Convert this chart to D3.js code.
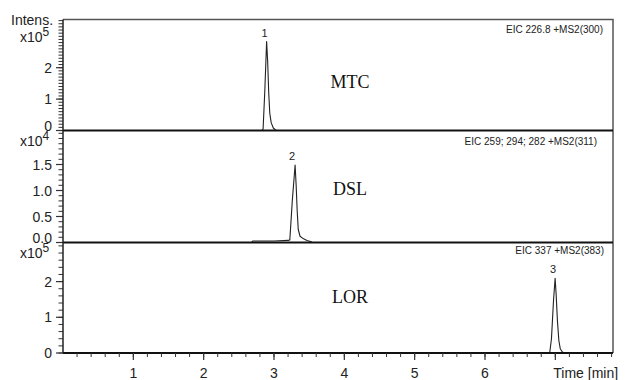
<!DOCTYPE html>
<html><head><meta charset="utf-8">
<script src="https://cdn.jsdelivr.net/npm/d3@7"></script>
<style>body{margin:0;background:#fff}svg{display:block}</style>
</head><body><svg id="c" width="626" height="380"></svg>
<script>
// ---- data ----
const panelNames = ["MTC", "DSL", "LOR"];
const eicLabels = ["EIC 226.8 +MS2(300)", "EIC 259; 294; 282 +MS2(311)", "EIC 337 +MS2(383)"];
const peakNumbers = ["1", "2", "3"];
const peakTimes = [2.895, 3.30, 6.997];
const peakHeights = [2.83, 1.49, 2.09];
const exponents = ["5", "4", "5"];
const yMax = [3.535, 2.154, 3.095];
const yTickLabels = [["0", "1", "2"], ["0.0", "0.5", "1.0", "1.5"], ["0", "1", "2"]];
const yMajorStep = [1, 0.5, 1];
const yMinorStep = [0.1, 0.1, 0.2];
const xTickLabels = ["1", "2", "3", "4", "5", "6"];
const xMax = 7.82;
const xAxisTitle = "Time [min]";
const mtcTrace = [[0,0],[2.83,0],[2.845,0.05],[2.87,1.3],[2.895,2.83],[2.91,2.2],[2.925,1.2],[2.94,0.55],[2.96,0.25],[2.99,0.08],[3.03,0],[7.82,0]];
const dslTrace = [[0,0],[2.68,0],[2.70,0.03],[3.0,0.03],[3.2,0.04],[3.225,0.05],[3.26,0.8],[3.30,1.49],[3.315,1.1],[3.33,0.6],[3.345,0.25],[3.37,0.12],[3.42,0.07],[3.47,0.04],[3.52,0.02],[3.54,0],[7.82,0]];
const lorTrace = [[0,0],[6.92,0],[6.945,0.4],[6.975,1.5],[6.997,2.09],[7.01,1.7],[7.03,0.9],[7.05,0.35],[7.07,0.12],[7.1,0.03],[7.12,0],[7.82,0]];
const traces = [mtcTrace, dslTrace, lorTrace];

// ---- layout ----
const svg = d3.select("#c");
const L = 63, R = 613, T = 19.5;
const panelBottoms = [130.5, 242.5, 353];
const panelTops = [T, 130.5, 242.5];
const sans = "'Liberation Sans', Arial, sans-serif";
const serif = "'Liberation Serif', 'Times New Roman', serif";

const x = d3.scaleLinear().domain([0, xMax]).range([L, R]);

// frame (top + right)
svg.append("path").attr("d", `M${L},${T}H${R}V${panelBottoms[2]}`)
  .attr("fill", "none").attr("stroke", "#555").attr("stroke-width", 1.5);

panelNames.forEach((name, i) => {
  const y = d3.scaleLinear().domain([0, yMax[i]]).range([panelBottoms[i], panelTops[i]]);
  const g = svg.append("g");
  // minor ticks
  const minor = d3.range(0, yMax[i] + 1e-9, yMinorStep[i]);
  g.selectAll("line.mi").data(minor).enter().append("line")
    .attr("x1", L - 4.5).attr("x2", L).attr("y1", d => y(d)).attr("y2", d => y(d))
    .attr("stroke", "#333").attr("stroke-width", 1);
  const major = yTickLabels[i].map((s, k) => k * yMajorStep[i]);
  g.selectAll("line.ma").data(major).enter().append("line")
    .attr("x1", L - 7).attr("x2", L).attr("y1", d => y(d)).attr("y2", d => y(d))
    .attr("stroke", "#333").attr("stroke-width", 1.2);
  g.selectAll("text.tl").data(yTickLabels[i]).enter().append("text")
    .attr("x", 52).attr("y", (s, k) => y(major[k]) + 5 - (k === 0 && i < 2 ? 5 : 0))
    .attr("text-anchor", "end").attr("font-family", sans).attr("font-size", 14).attr("fill", "#222")
    .text(s => s);
  // multiplier label
  const mt = g.append("text").attr("x", 20).attr("y", panelTops[i] + 22 - (i === 0 ? 0 : 7))
    .attr("font-family", sans).attr("font-size", 14).attr("fill", "#222");
  mt.append("tspan").text("x10");
  mt.append("tspan").attr("dy", -6).attr("font-size", 12).text(exponents[i]);
  // trace
  const line = d3.line().x(d => x(d[0])).y(d => y(d[1]));
  g.append("path").datum(traces[i]).attr("d", line)
    .attr("fill", "none").attr("stroke", "#222").attr("stroke-width", 1.1).attr("stroke-linejoin", "round");
  // baseline (panel separator)
  g.append("line").attr("x1", L).attr("x2", R).attr("y1", y(0)).attr("y2", y(0))
    .attr("stroke", "#111").attr("stroke-width", 2);
  // peak number
  g.append("text").attr("x", x(peakTimes[i]) - (i === 1 ? 3 : 2)).attr("y", y(peakHeights[i]) - 5)
    .attr("text-anchor", "middle").attr("font-family", sans).attr("font-size", 11).attr("fill", "#222")
    .text(peakNumbers[i]);
  // compound name
  g.append("text").attr("x", 350).attr("y", panelTops[i] + [68, 64, 60][i])
    .attr("text-anchor", "middle").attr("font-family", serif).attr("font-size", 18).attr("fill", "#111")
    .text(name);
  // EIC label
  g.append("text").attr("x", [603, 597, 604][i]).attr("y", panelTops[i] + [13.5, 14.5, 11.5][i])
    .attr("text-anchor", "end").attr("font-family", sans).attr("font-size", 10).attr("fill", "#222")
    .text(eicLabels[i]);
});

// left axis line
svg.append("line").attr("x1", L).attr("x2", L).attr("y1", T).attr("y2", panelBottoms[2])
  .attr("stroke", "#222").attr("stroke-width", 1.5);

// x axis
const xb = panelBottoms[2];
svg.selectAll("line.xmi").data(d3.range(0.2, xMax, 0.2)).enter().append("line")
  .attr("x1", d => x(d)).attr("x2", d => x(d)).attr("y1", xb).attr("y2", xb + 4)
  .attr("stroke", "#333").attr("stroke-width", 1);
svg.selectAll("line.xma").data(d3.range(1, 8)).enter().append("line")
  .attr("x1", d => x(d)).attr("x2", d => x(d)).attr("y1", xb).attr("y2", xb + 7)
  .attr("stroke", "#333").attr("stroke-width", 1.2);
svg.selectAll("text.xl").data(xTickLabels).enter().append("text")
  .attr("x", s => x(+s)).attr("y", 378).attr("text-anchor", "middle")
  .attr("font-family", sans).attr("font-size", 14).attr("fill", "#222").text(s => s);
svg.append("text").attr("x", x(7) - 2).attr("y", 378)
  .attr("font-family", sans).attr("font-size", 14).attr("fill", "#222").text(xAxisTitle);
svg.append("text").attr("x", 11).attr("y", 25)
  .attr("font-family", sans).attr("font-size", 14).attr("fill", "#222").text("Intens.");
</script></body></html>
